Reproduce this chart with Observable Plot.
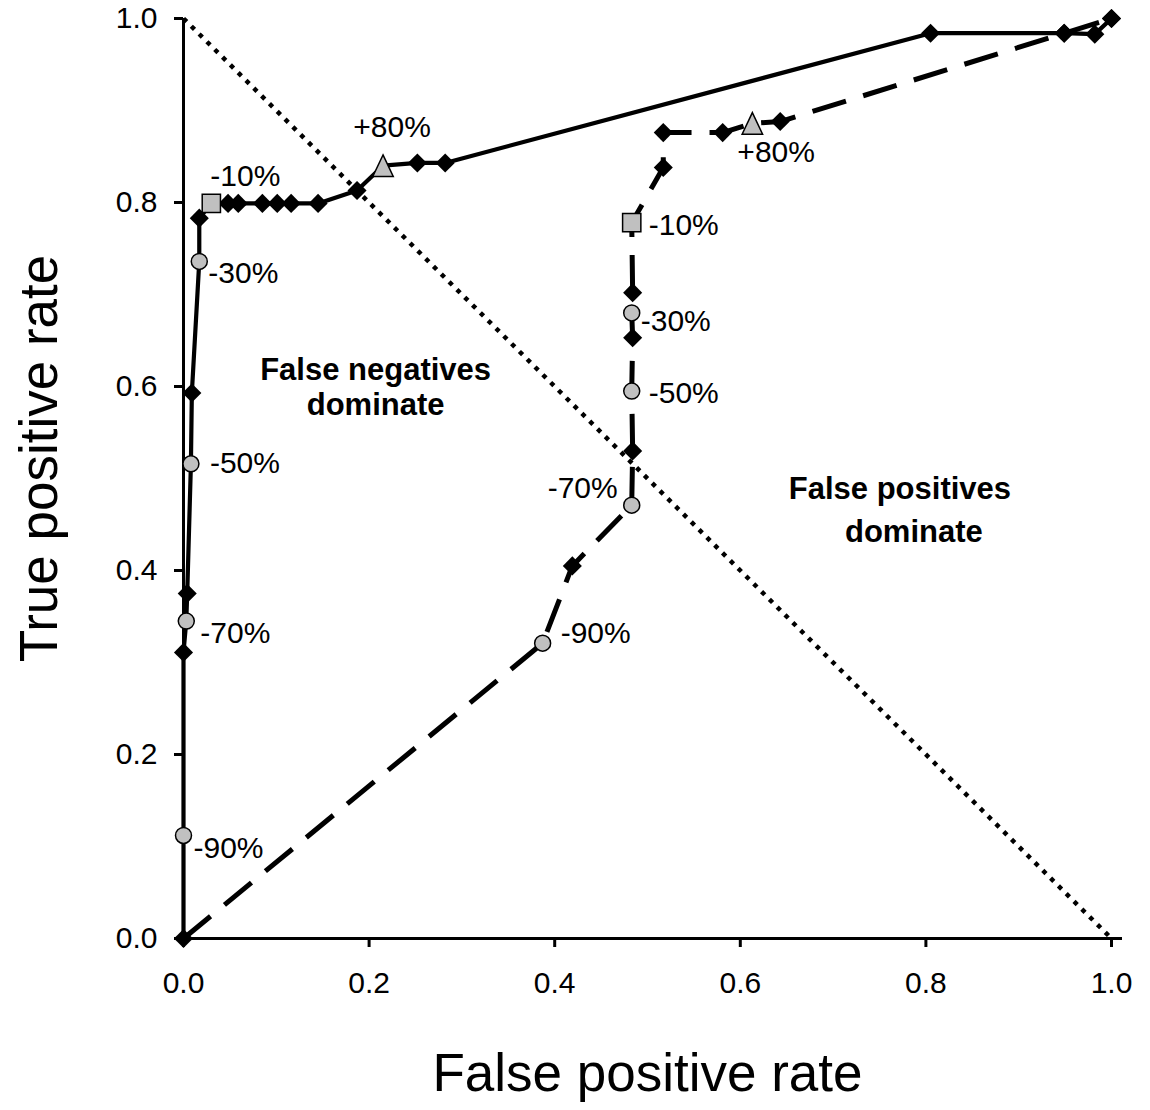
<!DOCTYPE html>
<html><head><meta charset="utf-8">
<script src="https://cdn.jsdelivr.net/npm/d3@7"></script>
<script src="https://cdn.jsdelivr.net/npm/@observablehq/plot@0.6"></script>
<style>body{margin:0;background:#fff;}</style>
</head><body><div id="chart"></div>
<script>
// Model A (solid line)
const fprA = [0, 0, 0, 0.003, 0.004, 0.008, 0.009, 0.017, 0.017, 0.030, 0.048, 0.059, 0.085, 0.101, 0.116, 0.145, 0.187, 0.215, 0.252, 0.282, 0.805, 0.949, 0.982, 1.0];
const tprA = [0, 0.112, 0.311, 0.345, 0.375, 0.516, 0.593, 0.736, 0.783, 0.799, 0.799, 0.799, 0.799, 0.799, 0.799, 0.799, 0.813, 0.840, 0.843, 0.843, 0.984, 0.984, 0.983, 1.0];
const markA = ["d","c","d","c","d","c","d","c","d","s","d","d","d","d","d","d","d","t","d","d","d","d","d","d"];
// Model B (dashed line)
const fprB = [0, 0.387, 0.419, 0.483, 0.484, 0.483, 0.484, 0.483, 0.484, 0.483, 0.517, 0.517, 0.581, 0.613, 0.643, 0.949, 1.0];
const tprB = [0, 0.321, 0.405, 0.471, 0.530, 0.595, 0.653, 0.680, 0.702, 0.778, 0.838, 0.876, 0.876, 0.886, 0.888, 0.984, 1.0];
const markB = ["n","c","d","c","d","c","d","c","d","s","d","d","d","t","d","d","d"];
// Diagonal
const diagX = [0, 1];
const diagY = [1, 0];
// Ticks
const xTicks = [0, 0.2, 0.4, 0.6, 0.8, 1.0];
const yTicks = [0, 0.2, 0.4, 0.6, 0.8, 1.0];
// Point labels
const labelModel = ["A","A","A","A","A","A","B","B","B","B","B","B"];
const labelIndex = [1, 3, 5, 7, 9, 17, 1, 3, 5, 7, 9, 13];
const labelText = ["-90%","-70%","-50%","-30%","-10%","+80%","-90%","-70%","-50%","-30%","-10%","+80%"];
// Region annotations
const noteText = ["False negatives", "dominate", "False positives", "dominate"];
const noteX = [0.207, 0.207, 0.772, 0.787];
const noteY = [0.618, 0.580, 0.488, 0.442];

// label placement (style)
const labelOffsets = [
  {dx:10, dy:13, a:"start"}, {dx:14, dy:12, a:"start"}, {dx:19, dy:0, a:"start"},
  {dx:9, dy:12, a:"start"}, {dx:34, dy:-27, a:"middle"}, {dx:9, dy:-38, a:"middle"},
  {dx:18, dy:-10, a:"start"}, {dx:-14, dy:-17, a:"end"}, {dx:17, dy:2, a:"start"},
  {dx:9, dy:8, a:"start"}, {dx:17, dy:3, a:"start"}, {dx:-15, dy:29, a:"start"}
];

const rowsA = fprA.map((x, i) => ({x, y: tprA[i], m: markA[i]}));
const rowsB = fprB.map((x, i) => ({x, y: tprB[i], m: markB[i]}));
const allRows = rowsB.concat(rowsA);
const diag = diagX.map((x, i) => ({x, y: diagY[i]}));
const notes = noteText.map((t, i) => ({t, x: noteX[i], y: noteY[i]}));

const tri = {draw(ctx, size) {
  const s = Math.sqrt(size), hw = s * 0.74, hh = s * 0.78;
  ctx.moveTo(0, -hh); ctx.lineTo(hw, hh); ctx.lineTo(-hw, hh); ctx.closePath();
}};

const gray = "#c0c0c0";
const fmt = d3.format(".1f");

const labelMarks = labelText.map((t, i) => {
  const rows = labelModel[i] === "A" ? rowsA : rowsB;
  const o = labelOffsets[i];
  return Plot.text([rows[labelIndex[i]]], {x: "x", y: "y", text: () => t, dx: o.dx, dy: o.dy, textAnchor: o.a, fontSize: 30, fill: "#000"});
});

const chart = Plot.plot({
  width: 1150, height: 1110,
  marginLeft: 183, marginRight: 39, marginTop: 18, marginBottom: 172,
  x: {domain: [0, 1]},
  y: {domain: [0, 1]},
  style: {fontFamily: "'Liberation Sans', Arial, sans-serif", background: "#fff", color: "#000", overflow: "visible"},
  marks: [
    Plot.axisX({ticks: xTicks, tickFormat: fmt, tickSize: 9, tickPadding: 24, fontSize: 30, strokeWidth: 3, label: null}),
    Plot.axisY({ticks: yTicks, tickFormat: fmt, tickSize: 9, tickPadding: 17, fontSize: 30, strokeWidth: 3, label: null}),
    Plot.ruleY([0], {strokeWidth: 3, insetRight: -11}),
    Plot.ruleX([0], {strokeWidth: 3}),
    Plot.line(diag, {x: "x", y: "y", strokeWidth: 4.5, strokeDasharray: "4.5,6.5", strokeLinecap: "butt"}),
    Plot.line(rowsB, {x: "x", y: "y", strokeWidth: 5, strokeDasharray: "35,18", strokeLinecap: "butt", strokeLinejoin: "miter"}),
    Plot.line(rowsA, {x: "x", y: "y", strokeWidth: 4.2}),
    Plot.dot(allRows.filter(d => d.m === "d"), {x: "x", y: "y", symbol: "diamond2", r: 8.6, fill: "#000", stroke: "none"}),
    Plot.dot(allRows.filter(d => d.m === "c"), {x: "x", y: "y", symbol: "circle", r: 8, fill: gray, stroke: "#000", strokeWidth: 1.5}),
    Plot.dot(allRows.filter(d => d.m === "s"), {x: "x", y: "y", symbol: "square", r: 10.3, fill: gray, stroke: "#000", strokeWidth: 1.5}),
    Plot.dot(allRows.filter(d => d.m === "t"), {x: "x", y: "y", symbol: tri, r: 7.8, fill: gray, stroke: "#000", strokeWidth: 1.5}),
    ...labelMarks,
    Plot.text(notes, {x: "x", y: "y", text: "t", fontSize: 31, fontWeight: "bold", fill: "#000"}),
    Plot.text(["False positive rate"], {frameAnchor: "bottom", textAnchor: "middle", lineAnchor: "middle", dy: 136, text: d => d, fontSize: 53, fill: "#000"}),
    Plot.text(["True positive rate"], {frameAnchor: "left", textAnchor: "middle", lineAnchor: "middle", dx: -143, dy: -20, rotate: -90, text: d => d, fontSize: 53, fill: "#000"})
  ]
});
document.getElementById("chart").appendChild(chart);
</script>
</body></html>
